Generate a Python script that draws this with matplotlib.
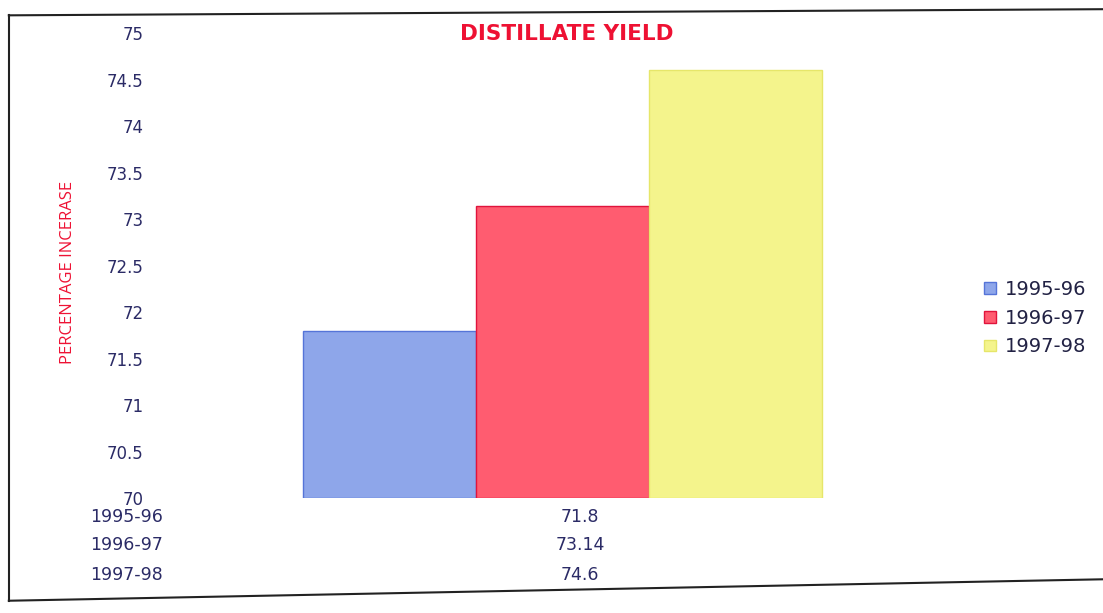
import matplotlib.pyplot as plt
from matplotlib.lines import Line2D
from matplotlib.transforms import blended_transform_factory

plt.rcParams['font.family'] = ['DejaVu Sans']

# Data
seasons = ['1995-96', '1996-97', '1997-98']
yield_pct = [71.8, 73.14, 74.6]
value_labels = ['71.8', '73.14', '74.6']
y_ticks = [70, 70.5, 71, 71.5, 72, 72.5, 73, 73.5, 74, 74.5, 75]

colors = ['#8ea6ea', '#ff5c70', '#f4f48c']
edges = ['#5574d8', '#e0143c', '#e6e66a']
text_col = '#2b2b66'

fig = plt.figure(figsize=(11.03, 6.13), dpi=100)
ax = fig.add_axes([0.14, 0.1876, 0.74, 0.7585])

# bars side by side around one category
for i, (s, v) in enumerate(zip(seasons, yield_pct)):
    ax.bar(i - 1, v - 70, bottom=70, width=1.0, color=colors[i],
           edgecolor=edges[i], linewidth=1, label=s)

ax.set_xlim(-2.36, 2.36)
ax.set_ylim(70, 75)
ax.set_yticks(y_ticks)
ax.set_yticklabels([('%g' % t) for t in y_ticks], color=text_col, fontsize=12)
ax.tick_params(axis='y', length=0, pad=8)
ax.set_xticks([])
for sp in ax.spines.values():
    sp.set_visible(False)

# title and axis label
fig.text(0.514, 0.945, 'DISTILLATE YIELD', color='#ee1133', fontsize=15.5,
         fontweight='bold', ha='center', va='center')
fig.text(0.062, 0.555, 'PERCENTAGE INCERASE', color='#ee1133', fontsize=12,
         rotation=90, ha='center', va='center', family='Open Sans')

# data table under the chart
row_y = [0.157, 0.111, 0.062]
tr = blended_transform_factory(ax.transData, fig.transFigure)
for i in range(len(seasons)):
    fig.text(0.115, row_y[i], seasons[i], color=text_col, fontsize=12.5,
             ha='center', va='center')
    ax.text(0.1, row_y[i], value_labels[i], color=text_col, fontsize=12.5,
            ha='center', va='center', transform=tr)

# legend
leg = ax.legend(loc='center left', bbox_to_anchor=(1.005, 0.387), frameon=False,
                fontsize=14, handlelength=0.6, handleheight=0.55,
                handletextpad=0.45, labelspacing=0.5, borderpad=0)
for t in leg.get_texts():
    t.set_color('#222244')

# page border from the scan
fig.add_artist(Line2D([0.008, 0.008], [0.02, 0.975], color='#222222', lw=1.5,
                      transform=fig.transFigure))
fig.add_artist(Line2D([0.008, 1.0], [0.975, 0.985], color='#222222', lw=1.5,
                      transform=fig.transFigure))
fig.add_artist(Line2D([0.008, 1.0], [0.02, 0.055], color='#222222', lw=1.5,
                      transform=fig.transFigure))

fig.savefig('out.png', dpi=100)
